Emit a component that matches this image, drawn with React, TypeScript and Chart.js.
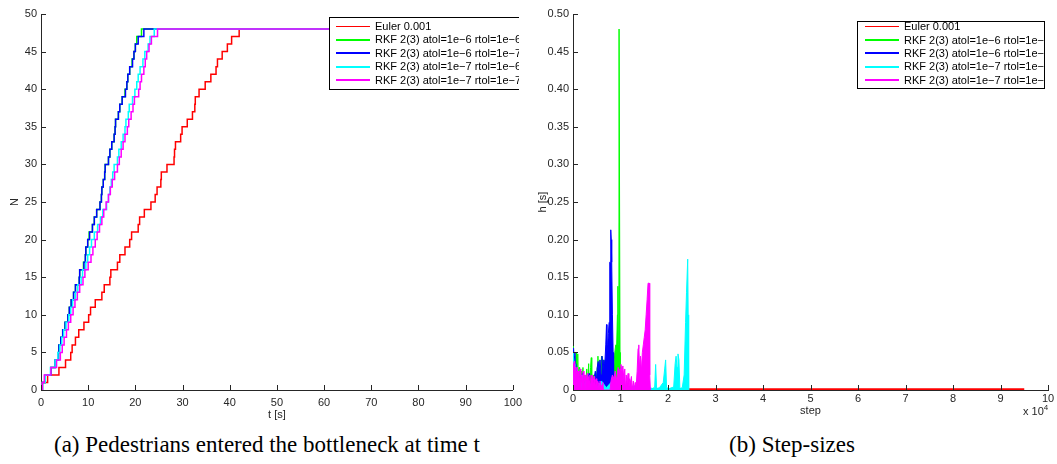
import React, { useEffect, useRef } from "react";
import { Chart, registerables } from "chart.js";
Chart.register(...registerables);

const FONT = "'Liberation Sans', Arial, Helvetica, sans-serif";
const AXIS = "#262626";

const SERIES_LABELS = [
  "Euler 0.001",
  "RKF 2(3) atol=1e\u22126 rtol=1e\u22126",
  "RKF 2(3) atol=1e\u22126 rtol=1e\u22127",
  "RKF 2(3) atol=1e\u22127 rtol=1e\u22126",
  "RKF 2(3) atol=1e\u22127 rtol=1e\u22127",
];
const SERIES_COLORS = ["#ff0000", "#00ff00", "#0000ff", "#00ffff", "#ff00ff"];
const LEGEND_WIDTHS = [1, 2, 2, 2, 2];

// (a) times [s] at which N reaches 1, 2, ..., 48
const T_EULER = [0.05, 1.4, 3.8, 5.2, 6.3, 6.6, 7.3, 8.0, 9.1, 10.1, 10.5, 11.5, 12.9, 13.4, 14.6, 14.8, 16.2, 16.7, 17.8, 18.8, 19.2, 20.6, 20.9, 21.9, 23.3, 24.2, 24.6, 25.4, 25.5, 26.7, 28.2, 28.3, 28.5, 29.6, 29.9, 31.0, 32.1, 32.6, 32.7, 33.5, 34.8, 36.0, 37.1, 37.4, 38.4, 39.5, 40.4, 42.0];
const T_RKF_6_6 = [0.3, 0.9, 2.1, 3.0, 3.7, 3.8, 4.2, 4.6, 5.1, 5.7, 6.0, 6.4, 6.9, 7.3, 8.1, 8.2, 9.0, 9.4, 9.5, 9.9, 10.2, 10.9, 11.3, 11.8, 12.5, 12.8, 12.9, 13.2, 13.5, 13.6, 14.3, 14.6, 15.0, 15.5, 15.7, 15.8, 16.4, 16.7, 17.2, 17.8, 18.2, 18.4, 18.8, 19.3, 19.7, 20.0, 20.3, 21.3];
const T_RKF_6_7 = [0.3, 0.9, 2.1, 3.0, 3.7, 3.8, 4.2, 4.6, 5.1, 5.7, 6.0, 6.4, 6.9, 7.3, 8.1, 8.2, 9.1, 9.4, 9.5, 9.9, 10.3, 10.9, 11.3, 11.8, 12.5, 12.8, 12.9, 13.2, 13.5, 13.6, 14.3, 14.6, 15.0, 15.5, 15.7, 15.8, 16.4, 16.7, 17.2, 17.9, 18.2, 18.4, 18.8, 19.4, 19.7, 20.0, 20.6, 21.8];
const T_RKF_7_6 = [0.3, 0.9, 2.0, 3.0, 3.6, 4.0, 4.4, 4.8, 5.3, 5.9, 6.3, 6.7, 7.3, 7.8, 8.5, 8.8, 9.5, 9.9, 10.3, 10.7, 11.3, 12.0, 12.6, 13.1, 13.9, 14.3, 14.6, 14.9, 15.2, 15.5, 16.2, 16.5, 17.0, 17.4, 17.8, 18.0, 18.5, 18.7, 19.4, 19.9, 20.3, 20.6, 21.0, 21.6, 22.0, 22.7, 23.1, 24.0];
const T_RKF_7_7 = [0.3, 0.7, 2.1, 3.3, 4.1, 4.5, 4.9, 5.4, 5.8, 6.3, 6.8, 7.2, 7.7, 8.2, 8.9, 9.3, 10.0, 10.6, 11.0, 11.5, 11.9, 12.4, 12.9, 13.3, 13.8, 14.3, 14.7, 15.1, 15.6, 16.2, 16.6, 17.0, 17.4, 17.8, 18.3, 18.6, 19.1, 19.5, 19.8, 20.7, 21.0, 21.3, 21.8, 22.1, 22.4, 22.9, 23.4, 24.7];
const T_END = 62;
const T_TICKS = [0, 10, 20, 30, 40, 50, 60, 70, 80, 90, 100];
const N_TICKS = [0, 5, 10, 15, 20, 25, 30, 35, 40, 45, 50];

// (b) step-size h [s] against step index
const H_EULER = [[0, 0.001], [95000, 0.001]];
const H_RKF_6_6 = [[0, 0], [50, 0.052], [150, 0.058], [250, 0.02], [350, 0.045], [450, 0], [650, 0.05], [750, 0.01], [850, 0], [1000, 0.048], [1100, 0], [1300, 0.03], [1400, 0], [1700, 0.025], [1800, 0], [2100, 0.03], [2200, 0], [2500, 0.02], [2600, 0], [2900, 0.028], [3000, 0], [3300, 0.035], [3400, 0], [3700, 0.03], [3850, 0.043], [3950, 0], [4300, 0.02], [4400, 0], [4700, 0.022], [4800, 0], [5100, 0.03], [5250, 0.045], [5350, 0], [5600, 0.04], [5700, 0], [6000, 0.045], [6100, 0], [6400, 0.04], [6500, 0], [6900, 0.035], [7000, 0], [8500, 0], [8600, 0.03], [8800, 0.05], [9000, 0.06], [9200, 0.06], [9350, 0.1], [9450, 0.138], [9550, 0.06], [9650, 0.06], [9680, 0.08], [9700, 0.48], [9880, 0.48], [9900, 0.05], [9950, 0]];
const H_RKF_6_7 = [[0, 0], [30, 0.055], [100, 0.045], [200, 0.056], [300, 0.03], [400, 0.05], [500, 0.015], [600, 0.035], [700, 0], [900, 0.025], [1000, 0], [1400, 0.018], [1500, 0], [2000, 0.022], [2100, 0], [2700, 0.015], [2800, 0], [3400, 0.022], [3500, 0], [4000, 0.015], [4100, 0], [4700, 0.025], [4850, 0.005], [5100, 0.03], [5300, 0.038], [5500, 0.025], [5700, 0.04], [5900, 0.02], [6100, 0.045], [6300, 0.025], [6500, 0.04], [6700, 0.035], [6900, 0.06], [7050, 0.087], [7150, 0.05], [7300, 0.06], [7450, 0.075], [7600, 0.09], [7700, 0.12], [7780, 0.17], [7900, 0.17], [7950, 0.213], [8050, 0.2], [8150, 0.17], [8300, 0.1], [8450, 0.05], [8550, 0]];
const H_RKF_7_6 = [[0, 0], [30, 0.05], [120, 0.045], [250, 0.035], [400, 0.02], [500, 0.03], [600, 0.005], [800, 0.02], [1000, 0.003], [1300, 0.015], [1600, 0.003], [2000, 0.02], [2300, 0.004], [2700, 0.015], [3000, 0.003], [4000, 0.01], [5000, 0.003], [6000, 0.012], [7000, 0.003], [8000, 0.01], [9000, 0.003], [10000, 0.01], [12000, 0.003], [14000, 0.008], [16000, 0.003], [16800, 0.002], [17200, 0.004], [17400, 0.034], [17600, 0.002], [18200, 0.003], [19000, 0.01], [19300, 0.028], [19500, 0.04], [19700, 0.003], [20300, 0.002], [21200, 0.004], [21500, 0.035], [21700, 0.045], [21900, 0.03], [22100, 0.048], [22300, 0.04], [22500, 0.002], [23000, 0.003], [23400, 0.02], [23700, 0.09], [23900, 0.13], [24150, 0.174], [24250, 0.1], [24350, 0]];
const H_RKF_7_7 = [[0, 0], [30, 0.035], [150, 0.03], [250, 0.038], [350, 0.02], [450, 0.03], [550, 0.015], [650, 0.025], [750, 0.008], [850, 0.03], [950, 0.018], [1100, 0.025], [1200, 0.01], [1350, 0.022], [1500, 0.028], [1650, 0.01], [1800, 0.02], [1900, 0], [2000, 0.015], [2150, 0.025], [2300, 0.012], [2450, 0.02], [2550, 0], [2650, 0.02], [2800, 0.012], [3000, 0.022], [3100, 0], [3200, 0.018], [3400, 0.012], [3550, 0.02], [3650, 0], [3800, 0.015], [4000, 0.02], [4100, 0], [4250, 0.012], [4450, 0.018], [4550, 0], [4700, 0.012], [4900, 0.015], [5000, 0], [5200, 0.012], [5400, 0.008], [5500, 0], [5700, 0.012], [5900, 0.006], [6000, 0], [6300, 0.01], [6400, 0], [7800, 0], [8000, 0.012], [8300, 0.02], [8600, 0.015], [8900, 0.025], [9200, 0.012], [9500, 0.03], [9700, 0.02], [9900, 0.028], [10100, 0.034], [10300, 0.025], [10500, 0.032], [10700, 0.015], [10900, 0.028], [11050, 0], [11200, 0.02], [11400, 0.01], [11600, 0.022], [11750, 0], [11900, 0.015], [12100, 0.01], [12300, 0.018], [12450, 0], [12700, 0.012], [12850, 0], [13100, 0.01], [13250, 0], [13500, 0.025], [13700, 0.055], [13850, 0.06], [14000, 0.03], [14200, 0.045], [14400, 0.025], [14600, 0.05], [14800, 0.06], [15000, 0.07], [15200, 0.08], [15400, 0.1], [15600, 0.12], [15800, 0.142], [16050, 0.142], [16150, 0.02], [16300, 0]];
const STEP_TICKS = [0, 10000, 20000, 30000, 40000, 50000, 60000, 70000, 80000, 90000, 100000];
const H_TICKS = [0, 0.05, 0.1, 0.15, 0.2, 0.25, 0.3, 0.35, 0.4, 0.45, 0.5];

type LegendLayout = { left: number; top: number; width: number; height: number; clipRight: number; rowY: number[]; lineX0: number; lineX1: number; textX: number };

function boxLegend(l: LegendLayout) {
  return {
    id: "boxLegend",
    afterDraw(chart: any) {
      const ctx = chart.ctx;
      ctx.save();
      ctx.beginPath();
      ctx.rect(0, 0, l.clipRight, chart.height);
      ctx.clip();
      ctx.fillStyle = "#fff";
      ctx.fillRect(l.left, l.top, l.width, l.height);
      ctx.strokeStyle = "#000";
      ctx.lineWidth = 1;
      ctx.strokeRect(l.left + 0.5, l.top + 0.5, l.width, l.height);
      ctx.beginPath();
      ctx.rect(l.left + 1, l.top + 1, l.width - 1, l.height - 1);
      ctx.clip();
      ctx.font = `11px ${FONT}`;
      ctx.textBaseline = "middle";
      ctx.textAlign = "left";
      chart.data.datasets.forEach((ds: any, i: number) => {
        const y = l.rowY[i];
        const ly = LEGEND_WIDTHS[i] % 2 ? Math.round(y) + 0.5 : Math.round(y);
        ctx.strokeStyle = SERIES_COLORS[i];
        ctx.lineWidth = LEGEND_WIDTHS[i];
        ctx.beginPath();
        ctx.moveTo(l.lineX0, ly);
        ctx.lineTo(l.lineX1, ly);
        ctx.stroke();
        ctx.fillStyle = "#000";
        ctx.fillText(ds.label, l.textX, y + 0.5);
      });
      ctx.restore();
    },
  };
}

const inwardTicks = {
  id: "inwardTicks",
  afterDatasetsDraw(chart: any) {
    const { ctx, chartArea, scales } = chart;
    ctx.save();
    ctx.strokeStyle = AXIS;
    ctx.lineWidth = 1;
    ctx.beginPath();
    scales.x.ticks.forEach((t: any) => {
      const px = Math.round(scales.x.getPixelForValue(t.value)) + 0.5;
      ctx.moveTo(px, chartArea.bottom);
      ctx.lineTo(px, chartArea.bottom - 5);
    });
    scales.y.ticks.forEach((t: any) => {
      const py = Math.round(scales.y.getPixelForValue(t.value)) + 0.5;
      ctx.moveTo(chartArea.left, py);
      ctx.lineTo(chartArea.left + 5, py);
    });
    ctx.stroke();
    ctx.restore();
  },
};

function axis(values: number[], min: number, max: number, title: string, fit: (s: any) => void, extra: any) {
  return {
    type: "linear",
    min,
    max,
    afterBuildTicks: (s: any) => {
      s.ticks = values.map((v) => ({ value: v }));
    },
    afterFit: fit,
    grid: { display: false, drawTicks: false, tickLength: 0 },
    border: { display: true, color: AXIS, width: 1 },
    ticks: { color: AXIS, font: { family: FONT, size: 11 }, autoSkip: false, maxRotation: 0, ...extra.ticks },
    title: { display: true, text: title, color: AXIS, font: { family: FONT, size: 11 }, padding: extra.titlePadding },
  };
}

const stepPoints = (times: number[]) => [
  { x: 0, y: 0 },
  ...times.map((t, i) => ({ x: t, y: i + 1 })),
  { x: T_END, y: times.length },
];
const pairPoints = (pairs: number[][]) => pairs.map(([x, y]) => ({ x, y }));

function leftConfig(): any {
  const series = [T_EULER, T_RKF_6_6, T_RKF_6_7, T_RKF_7_6, T_RKF_7_7];
  return {
    type: "line",
    data: {
      datasets: series.map((s, i) => ({
        label: SERIES_LABELS[i],
        data: stepPoints(s),
        borderColor: SERIES_COLORS[i],
        borderWidth: 1.5,
        stepped: true,
        pointRadius: 0,
        fill: false,
        order: series.length - 1 - i,
      })),
    },
    options: {
      animation: false,
      responsive: false,
      devicePixelRatio: 1,
      layout: { padding: { left: 0, right: 10, top: 14, bottom: 0 } },
      plugins: { legend: { display: false }, tooltip: { enabled: false } },
      scales: {
        x: axis(T_TICKS, 0, 100, "t [s]", (s) => { s.height = 35; }, { ticks: { padding: 6 }, titlePadding: { top: 0, bottom: 3 } }),
        y: axis(N_TICKS, 0, 50, "N", (s) => { s.width = 41; }, { ticks: { padding: 4 }, titlePadding: { top: 8, bottom: 0 } }),
      },
    },
    plugins: [
      inwardTicks,
      boxLegend({ left: 329, top: 17, width: 300, height: 72, clipRight: 519, rowY: [26, 39.5, 53, 66.5, 80], lineX0: 336, lineX1: 370, textX: 375 }),
    ],
  };
}

function rightConfig(): any {
  const series = [H_EULER, H_RKF_6_6, H_RKF_6_7, H_RKF_7_6, H_RKF_7_7];
  return {
    type: "line",
    data: {
      datasets: series.map((s, i) => ({
        label: SERIES_LABELS[i],
        data: pairPoints(s),
        borderColor: SERIES_COLORS[i],
        backgroundColor: SERIES_COLORS[i],
        borderWidth: i === 0 ? 2 : 1,
        pointRadius: 0,
        fill: i === 0 ? false : "origin",
        order: series.length - 1 - i,
      })),
    },
    options: {
      animation: false,
      responsive: false,
      devicePixelRatio: 1,
      layout: { padding: { left: 0, right: 9, top: 14, bottom: 0 } },
      plugins: { legend: { display: false }, tooltip: { enabled: false } },
      scales: {
        x: axis(STEP_TICKS, 0, 100000, "step", (s) => { s.height = 35; }, { ticks: { padding: 2, callback: (v: number) => String(v / 10000) }, titlePadding: { top: 0, bottom: 7 } }),
        y: axis(H_TICKS, 0, 0.5, "h [s]", (s) => { s.width = 45; }, { ticks: { padding: 4 }, titlePadding: { top: 8, bottom: 0 } }),
      },
    },
    plugins: [
      inwardTicks,
      boxLegend({ left: 329, top: 21, width: 187, height: 67, clipRight: 518, rowY: [26, 40, 53, 66.5, 80], lineX0: 337, lineX1: 371, textX: 376 }),
    ],
  };
}

export default function App() {
  const leftRef = useRef<HTMLCanvasElement>(null);
  const rightRef = useRef<HTMLCanvasElement>(null);
  useEffect(() => {
    const c1 = new Chart(leftRef.current as HTMLCanvasElement, leftConfig());
    const c2 = new Chart(rightRef.current as HTMLCanvasElement, rightConfig());
    return () => {
      c1.destroy();
      c2.destroy();
    };
  }, []);
  const caption: React.CSSProperties = {
    position: "absolute",
    top: 430,
    height: 30,
    lineHeight: "30px",
    textAlign: "center",
    fontFamily: "'Liberation Serif', 'Times New Roman', serif",
    fontSize: 23,
    color: "#000",
    whiteSpace: "nowrap",
  };
  return (
    <div style={{ position: "fixed", left: 0, top: 0, width: 1057, height: 464, background: "#fff", overflow: "hidden" }}>
      <canvas ref={leftRef} width={528} height={425} style={{ position: "absolute", left: 0, top: 0, width: 528, height: 425 }} />
      <canvas ref={rightRef} width={529} height={425} style={{ position: "absolute", left: 528, top: 0, width: 529, height: 425 }} />
      <div style={{ position: "absolute", left: 1023, top: 405, fontFamily: FONT, fontSize: 11, lineHeight: "13px", color: AXIS, whiteSpace: "nowrap" }}>
        x 10<span style={{ fontSize: 8, position: "relative", top: -5 }}>4</span>
      </div>
      <div style={{ ...caption, left: 0, width: 534 }}>(a) Pedestrians entered the bottleneck at time t</div>
      <div style={{ ...caption, left: 528, width: 528 }}>(b) Step-sizes</div>
    </div>
  );
}
